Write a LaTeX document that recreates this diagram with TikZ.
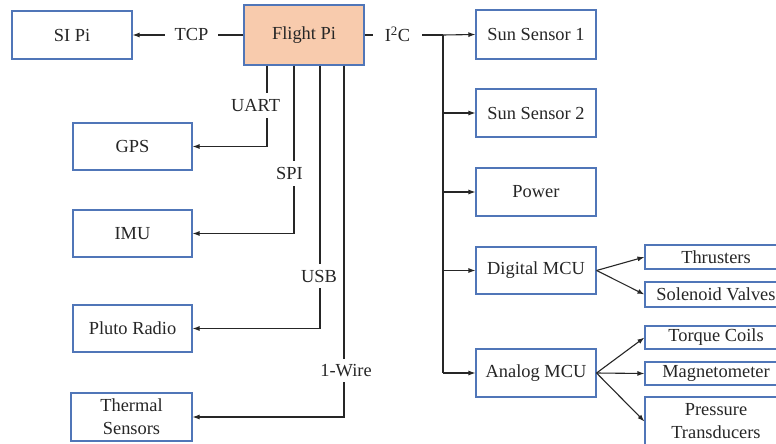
\documentclass[tikz,border=0pt]{standalone}
\usepackage{fontspec}
\setmainfont{Liberation Serif}
\usetikzlibrary{arrows.meta,positioning,calc}
\definecolor{boxblue}{HTML}{5076B8}
\definecolor{peach}{HTML}{F8CBAD}
\definecolor{ink}{HTML}{262626}
\tikzset{
  box/.style={draw=boxblue, line width=1.1pt, fill=white, text=ink, inner sep=0pt, align=center,
    font=\fontsize{18.4}{23}\selectfont},
  bigbox/.style={box, minimum width=120pt, minimum height=48pt},
  smallbox/.style={box, minimum width=142pt, minimum height=24pt},
  wire/.style={draw=ink, line width=1.1pt},
  arr/.style={wire, -{Latex[length=7pt,width=5pt]}},
  lbl/.style={fill=white, text=ink, inner xsep=2pt, inner ysep=4pt, font=\fontsize{18.4}{23}\selectfont},
}
\begin{document}
\begin{tikzpicture}[x=1pt,y=-1pt]
\useasboundingbox (0,0) rectangle (776,444);
\clip (0,0) rectangle (776,444);
\fill[white] (0,0) rectangle (776,444);

% left side
\node[bigbox] (sipi) at (72,35) {SI Pi};
\node[bigbox, fill=peach, minimum height=60pt] (flight) at (304,35) {Flight Pi};
\node[bigbox, minimum width=119pt, minimum height=47pt] (gps) at (132.5,146.5) {GPS};
\node[bigbox, minimum width=119pt, minimum height=47pt] (imu) at (132.5,233.5) {IMU};
\node[bigbox, minimum width=119pt, minimum height=47pt] (pluto) at (132.5,328.5) {Pluto Radio};
\node[bigbox, minimum width=121pt] (thermal) at (131.5,417) {Thermal\\Sensors};

% right side
\node[bigbox, minimum height=49pt] (ss1) at (536,34.5) {Sun Sensor 1};
\node[bigbox] (ss2) at (536,113) {Sun Sensor 2};
\node[bigbox] (power) at (536,192) {Power};
\node[bigbox, minimum height=47pt] (digital) at (536,270.5) {Digital MCU};
\node[bigbox] (analog) at (536,373) {Analog MCU};

\node[smallbox] (thr) at (716,257) {Thrusters};
\node[smallbox, minimum height=25pt] (sol) at (716,294.5) {Solenoid Valves};
\node[smallbox, minimum height=23pt] (tq) at (716,337.5) {Torque Coils};
\node[smallbox, minimum height=23pt] (mag) at (716,373.5) {Magnetometer};
\node[smallbox, minimum height=49pt] (pt) at (716,421.5) {Pressure\\Transducers};

% TCP
\draw[arr] (flight.west) -- (sipi.east);
\node[lbl, inner xsep=10pt] (tcp) at (191.5,34) {TCP};

% I2C bus
\coordinate (bus) at (443,35);
\coordinate (busend) at (443,373);
\draw[wire] (flight.east) -- (bus);
\draw[arr] (bus) -- (ss1.west);
\draw[wire] (bus) -- (busend);
\draw[arr] (bus |- ss2.west) -- (ss2.west);
\draw[arr] (bus |- power.west) -- (power.west);
\draw[arr] (bus |- digital.west) -- (digital.west);
\draw[arr] (busend) -- (analog.west);
\node[lbl, inner xsep=12pt] (i2c) at (397.5,34) {I\textsuperscript{2}C};

% downward connectors
\draw[arr] ([xshift=-37pt]flight.south) |- (gps.east);
\draw[arr] ([xshift=-10pt]flight.south) |- (imu.east);
\draw[arr] ([xshift=16pt]flight.south) |- (pluto.east);
\draw[arr] ([xshift=40pt]flight.south) |- (thermal.east);
\node[lbl, inner ysep=6pt] (uart) at (255.5,105.5) {UART};
\node[lbl, inner ysep=6pt] (spi) at (289.5,173.5) {SPI};
\node[lbl, inner ysep=6pt] (usb) at (319,276) {USB};
\node[lbl, inner ysep=5pt] (onew) at (346,370.5) {1-Wire};

% MCU fan-outs
\draw[arr] (digital.east) -- (thr.west);
\draw[arr] (digital.east) -- (sol.west);
\draw[arr] (analog.east) -- (tq.west);
\draw[arr] (analog.east) -- (mag.west);
\draw[arr] (analog.east) -- (pt.west);
\end{tikzpicture}
\end{document}
